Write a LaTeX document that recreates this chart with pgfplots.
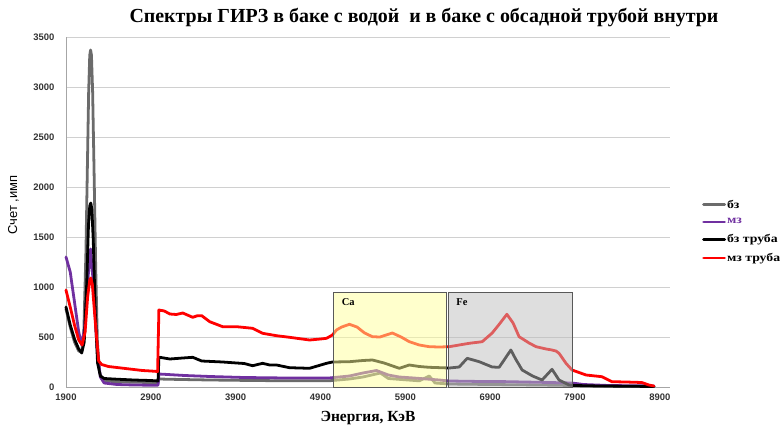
\documentclass[border=0pt]{standalone}
\usepackage{pgfplots}
\pgfplotsset{compat=1.18}
\usepackage{fontspec}
\setmainfont{Liberation Serif}
\newfontfamily\arialfont{Liberation Sans}
\newfontfamily\widefont[FakeStretch=1.2]{Liberation Serif}

\definecolor{bzgray}{HTML}{6B6B6B}
\definecolor{mzpurple}{HTML}{7030A0}
\definecolor{gridgray}{HTML}{D0D0D0}
\definecolor{axisgray}{HTML}{A6A6A6}
\definecolor{caFill}{HTML}{FFFF99}
\definecolor{feFill}{HTML}{BDBDBD}

\begin{document}
\begin{tikzpicture}[x=1bp,y=1bp]
\path[use as bounding box] (0,0) rectangle (783,425);

\node[font=\fontsize{20}{22}\selectfont\bfseries] at (424,407)
  {Спектры ГИРЗ в баке с водой \ и в баке с обсадной трубой внутри};

\begin{axis}[
  at={(66bp,38bp)}, anchor=south west,
  scale only axis, width=604bp, height=350bp,
  xmin=1900, xmax=9020, ymin=0, ymax=3500,
  xtick={1900,2900,...,8900}, ytick={0,500,...,3500},
  /pgf/number format/1000 sep={},
  /pgf/number format/assume math mode=true,
  ticklabel style={font=\arialfont\bfseries\fontsize{9.5}{11}\selectfont, text=black!80},
  tick style={draw=none},
  ymajorgrids, grid style={gridgray, line width=0.7pt},
  axis x line*=bottom, axis y line*=left,
  axis line style={axisgray, line width=0.8pt},
  xticklabel style={yshift=-3bp},
  yticklabel style={xshift=-8bp},
  xlabel={Энергия, КэВ},
  xlabel style={font=\fontsize{15.5}{17}\selectfont\bfseries, at={(axis description cs:0.5,0)}, anchor=center, yshift=-31bp},
  ylabel={Счет ,имп},
  ylabel style={font=\arialfont\fontsize{13}{15}\selectfont, at={(axis description cs:-0.087,0.52)}, anchor=center},
  clip=false,
  legend style={draw=none, fill=none, at={(1.053,0.541)}, anchor=north west,
    font=\widefont\fontsize{11.5}{13}\selectfont\bfseries, row sep=5bp, inner sep=0pt,
    nodes={inner xsep=1bp}},
  legend cell align=left,
  legend image code/.code={\draw[#1, line width=2.8pt] (0bp,0bp) -- (21bp,0bp);},
  every axis plot/.append style={line width=2.8pt, line join=round, line cap=round},
]

% бз
\addplot[bzgray] coordinates {
(1900,780) (1950,600) (2000,450) (2050,360) (2085,350) (2110,550) (2135,1350)
(2152,2200) (2167,2950) (2180,3320) (2190,3370) (2200,3320) (2214,2950)
(2230,2200) (2250,1200) (2270,450) (2295,150) (2325,80)
(2380,60) (2500,52) (2700,48) (2900,45) (2985,42) (2995,80) (3200,76) (3600,70)
(4000,66) (4500,62) (5000,62) (5240,80) (5400,100) (5606,140) (5700,85) (5900,72)
(6065,62) (6182,110) (6250,40) (6418,30) (6800,26) (7500,20) (7865,15) (8300,8) (8830,5)};
\addlegendentry{бз}

% мз
\addplot[mzpurple] coordinates {
(1900,1300) (1950,1150) (2000,850) (2050,550) (2085,420) (2120,600) (2150,1000)
(2190,1380) (2225,1000) (2265,400) (2305,100) (2350,40) (2500,25) (2700,20)
(2900,18) (2985,18) (2995,130) (3100,125) (3300,115) (3600,105) (4000,95)
(4500,90) (5000,90) (5240,110) (5400,140) (5560,165) (5700,120) (5829,100)
(6000,90) (6300,70) (6418,60) (6800,55) (7000,55) (7300,50) (7600,45) (7865,40)
(8000,25) (8300,15) (8830,10)};
\addlegendentry[text=mzpurple]{мз}

% бз труба
\addplot[black] coordinates {
(1900,800) (1950,620) (2000,480) (2050,380) (2085,340) (2115,450) (2145,1050)
(2165,1620) (2180,1810) (2192,1840) (2205,1780) (2222,1450) (2245,750) (2272,240) (2305,110) (2350,85)
(2500,78) (2700,70) (2900,65) (2985,60) (2995,290) (3006,297) (3124,280)
(3276,290) (3394,297) (3500,260) (3747,250) (3912,240) (4000,235) (4100,213)
(4218,237) (4300,220) (4382,220) (4535,193) (4771,187) (4971,237) (5041,250)
(5241,253) (5400,265) (5512,270) (5650,240) (5829,187) (5947,220) (6065,205)
(6182,197) (6418,190) (6535,200) (6629,287) (6771,253) (6924,200) (7006,197)
(7144,370) (7200,280) (7277,170) (7400,110) (7512,70) (7629,177) (7712,70)
(7829,20) (7900,15) (8200,10) (8500,8) (8830,5)};
\addlegendentry{бз труба}

% мз труба
\addplot[red] coordinates {
(1900,970) (1950,800) (2000,620) (2050,470) (2090,420) (2125,550) (2155,900)
(2180,1070) (2192,1090) (2210,1030) (2250,600) (2285,260) (2320,225) (2400,205) (2500,195)
(2600,185) (2700,175) (2800,165) (2900,160) (2980,155) (2995,770) (3060,760)
(3124,730) (3200,725) (3276,740) (3394,697) (3450,713) (3500,713) (3594,653)
(3747,603) (3912,603) (4100,587) (4218,537) (4382,513) (4535,497) (4771,470)
(4900,480) (4971,487) (5041,520) (5088,570) (5150,600) (5241,627) (5330,600)
(5420,540) (5512,503) (5600,500) (5747,540) (5850,500) (5947,453) (6065,420)
(6182,403) (6300,400) (6418,403) (6535,420) (6653,437) (6806,453) (6924,540)
(7000,620) (7097,727) (7170,640) (7241,503) (7359,440) (7441,403) (7560,380)
(7629,370) (7676,360) (7712,337) (7794,237) (7865,170) (8030,120) (8218,103)
(8335,53) (8500,50) (8688,45) (8771,20) (8830,10)};
\addlegendentry{мз труба}

% highlighted energy windows
\fill[caFill, opacity=0.5] (axis cs:5053,0) rectangle (axis cs:6382,950);
\draw[black!65, line width=0.8pt] (axis cs:5053,0) rectangle (axis cs:6382,950);
\fill[feFill, opacity=0.5] (axis cs:6406,0) rectangle (axis cs:7865,950);
\draw[black!65, line width=0.8pt] (axis cs:6406,0) rectangle (axis cs:7865,950);
\node[font=\fontsize{10.5}{12}\selectfont\bfseries, anchor=north west] at (axis cs:5110,915) {Ca};
\node[font=\fontsize{10.5}{12}\selectfont\bfseries, anchor=north west] at (axis cs:6460,915) {Fe};
\end{axis}
\end{tikzpicture}
\end{document}
